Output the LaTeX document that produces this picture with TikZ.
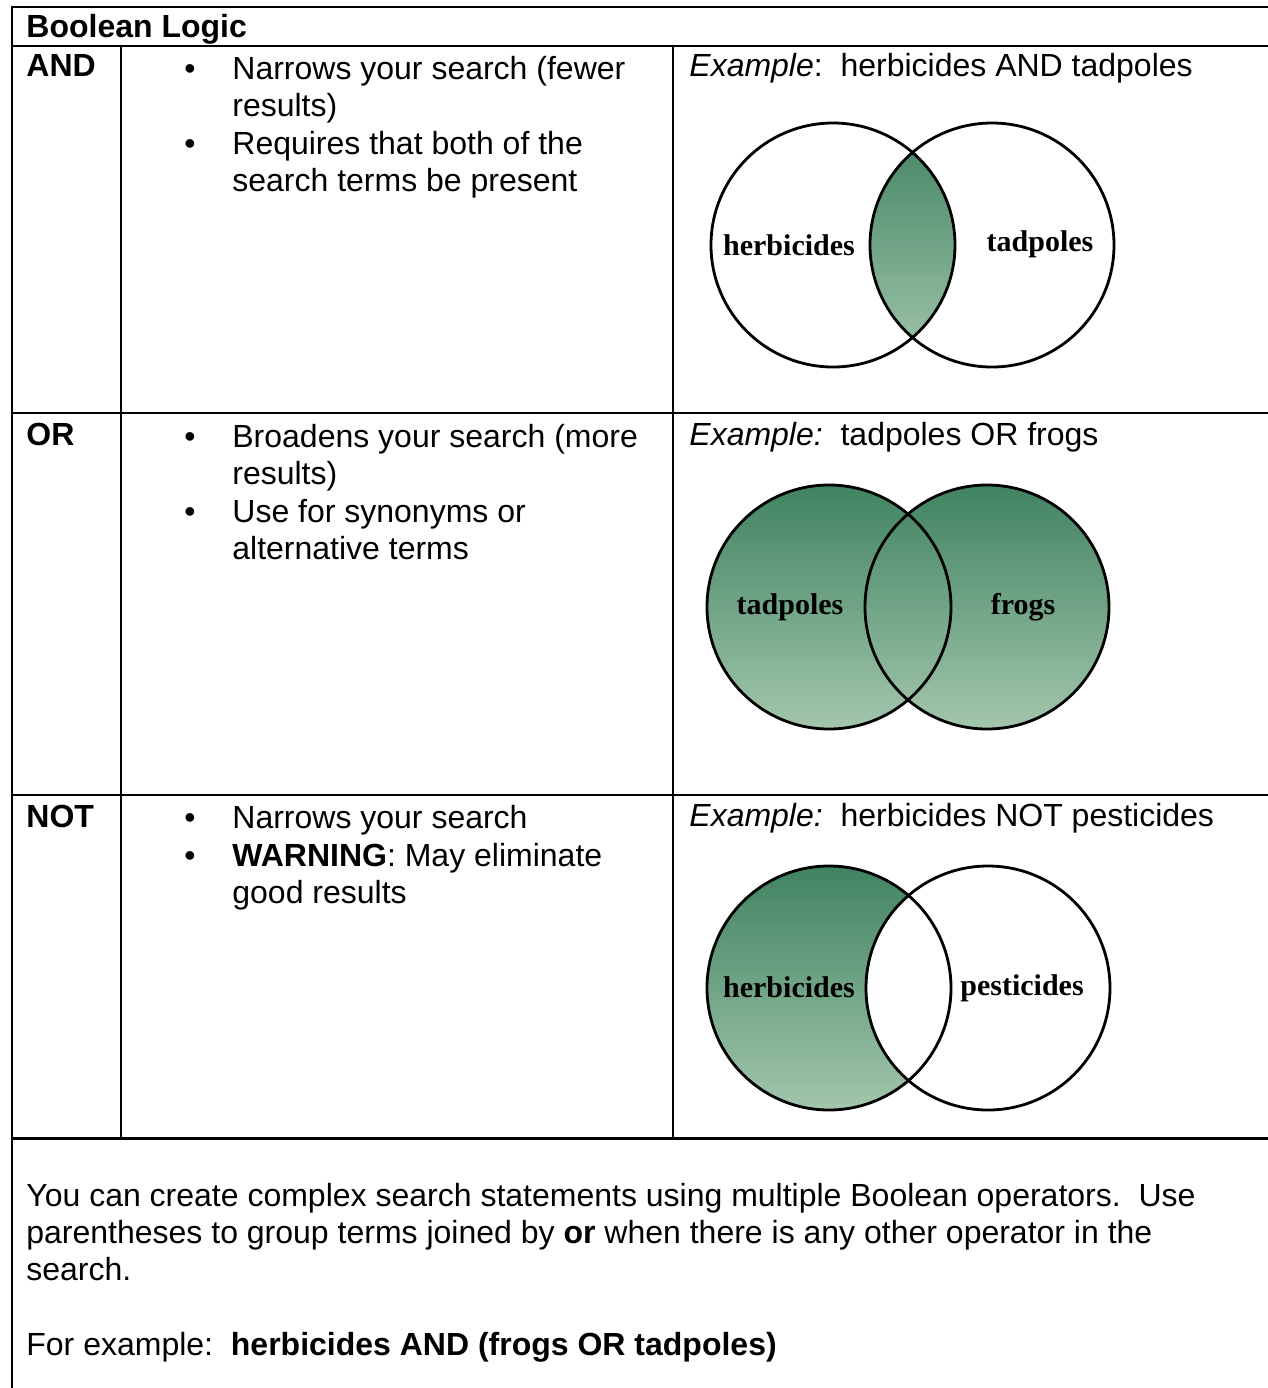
\documentclass[tikz,border=0pt]{standalone}
\usepackage{fontspec}
\setmainfont{Liberation Sans}
\newfontfamily\vennfont{Liberation Serif}
\usetikzlibrary{positioning}

\definecolor{greentop}{RGB}{64,131,97}
\definecolor{greenbot}{RGB}{163,198,172}

\tikzset{
  tabline/.style={line width=1pt},
  celltext/.style={anchor=base west, inner sep=0pt, font=\fontsize{16}{18.5}\selectfont},
  dotmark/.style={anchor=base, inner sep=0pt, font=\fontsize{16}{18.5}\selectfont},
  vennline/.style={line width=1.4pt},
  vennfill/.style={top color=greentop, bottom color=greenbot},
  vennlabel/.style={inner sep=0pt, font=\vennfont\bfseries\fontsize{15}{15}\selectfont}
}

\begin{document}
\begin{tikzpicture}[x=0.5pt,y=-0.5pt]
\useasboundingbox (0,0) rectangle (1268,1388);

% Table rules
\draw[tabline] (1268,7) -- (11.5,7) -- (11.5,1388);
\foreach \yy in {46,413,795}
    \draw[tabline] (11.5,\yy) -- (1268,\yy);
\draw[tabline, line width=1.5pt] (11.5,1138) -- (1268,1138);
\foreach \xx in {121,673}
    \draw[tabline] (\xx,46) -- (\xx,1138);

% Title
\node[celltext] (title) at (26,37) {\bfseries Boolean Logic};

% AND row
\node[celltext] (andop) at (26,76) {\bfseries AND};
\node[dotmark] (andb1) at (190,79) {•};
\node[celltext] (andt1) at (232,79) {Narrows your search (fewer};
\node[celltext] (andt2) at (232,116) {results)};
\node[dotmark] (andb2) at (190,154) {•};
\node[celltext] (andt3) at (232,154) {Requires that both of the};
\node[celltext] (andt4) at (232,191) {search terms be present};
\node[celltext] (andex) at (689,76) {\itshape Example\upshape:\ \ herbicides AND tadpoles};

% OR row
\node[celltext] (orop) at (26,445) {\bfseries OR};
\node[dotmark] (orb1) at (190,447) {•};
\node[celltext] (ort1) at (232,447) {Broadens your search (more};
\node[celltext] (ort2) at (232,484) {results)};
\node[dotmark] (orb2) at (190,522) {•};
\node[celltext] (ort3) at (232,522) {Use for synonyms or};
\node[celltext] (ort4) at (232,559) {alternative terms};
\node[celltext] (orex) at (689,445) {\itshape Example:\upshape\ \ tadpoles OR frogs};

% NOT row
\node[celltext] (notop) at (26,827) {\bfseries NOT};
\node[dotmark] (notb1) at (190,828) {•};
\node[celltext] (nott1) at (232,828) {Narrows your search};
\node[dotmark] (notb2) at (190,866) {•};
\node[celltext] (nott2) at (232,866) {\bfseries WARNING\mdseries: May eliminate};
\node[celltext] (nott3) at (232,903) {good results};
\node[celltext] (notex) at (689,826) {\itshape Example:\upshape\ \ herbicides NOT pesticides};

% Bottom note
\node[celltext] (note1) at (26,1206) {You can create complex search statements using multiple Boolean operators.\ \ Use};
\node[celltext] (note2) at (26,1243) {parentheses to group terms joined by \textbf{or} when there is any other operator in the};
\node[celltext] (note3) at (26,1280) {search.};
\node[celltext] (note4) at (26,1355) {For example:\ \ \textbf{herbicides AND (frogs OR tadpoles)}};

% Venn: AND
\coordinate (andl) at (833,245);
\coordinate (andr) at (992,245);
\begin{scope}
    \clip (andl) circle (122);
    \fill[vennfill] (andr) circle (122);
\end{scope}
\draw[vennline] (andl) circle (122) (andr) circle (122);
\node[vennlabel] (andlab1) at (789,245) {herbicides};
\node[vennlabel] (andlab2) at (1040,244) {tadpoles};

% Venn: OR
\coordinate (orl) at (829,607);
\coordinate (orr) at (987,607);
\fill[vennfill] (orl) circle (122);
\fill[vennfill] (orr) circle (122);
\draw[vennline] (orl) circle (122) (orr) circle (122);
\node[vennlabel] (orlab1) at (790,607) {tadpoles};
\node[vennlabel] (orlab2) at (1023,607) {frogs};

% Venn: NOT
\coordinate (notl) at (829,988);
\coordinate (notr) at (988,988);
\fill[vennfill] (notl) circle (122);
\fill[white] (notr) circle (122);
\draw[vennline] (notl) circle (122) (notr) circle (122);
\node[vennlabel] (notlab1) at (789,987) {herbicides};
\node[vennlabel] (notlab2) at (1022,988) {pesticides};
\end{tikzpicture}
\end{document}
